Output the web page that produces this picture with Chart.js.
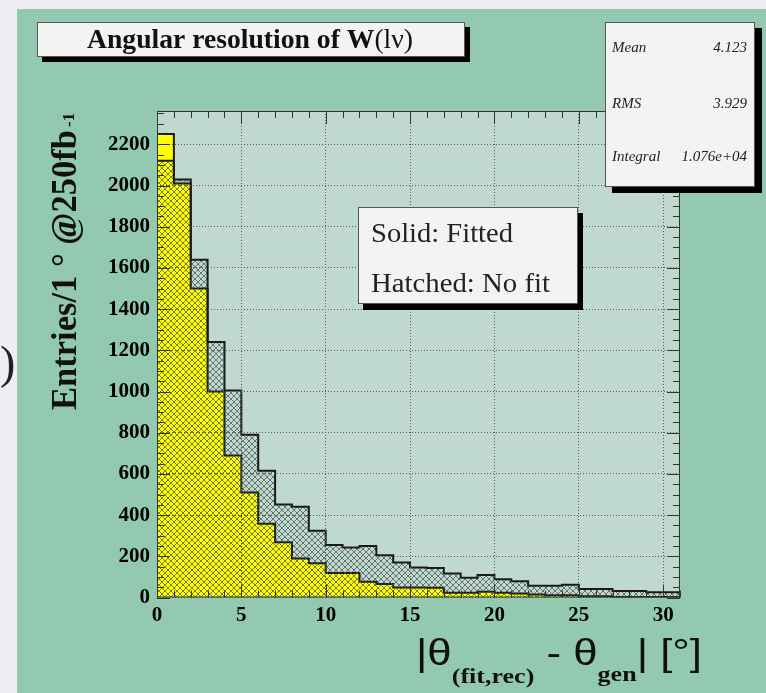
<!DOCTYPE html>
<html><head><meta charset="utf-8">
<script src="https://cdn.jsdelivr.net/npm/chart.js@4.4.1/dist/chart.umd.min.js"></script>
<style>html,body{margin:0;padding:0;background:#efeff3;overflow:hidden}#wrap{width:766px;height:693px;position:relative}</style>
</head><body><div id="wrap"><canvas id="c" width="766" height="693"></canvas></div>
<script>
// ---- data ----
const binEdges = [0,1,2,3,4,5,6,7,8,9,10,11,12,13,14,15,16,17,18,19,20,21,22,23,24,25,26,27,28,29,30,31];
const noFitCounts = [1080,2120,2030,1640,1240,1005,790,615,452,440,324,255,243,250,205,170,146,143,117,96,109,88,79,57,57,62,41,41,32,32,25];
const fittedCounts = [1210,2250,2010,1500,1000,690,510,358,268,189,166,119,119,77,65,49,49,47,23,23,28,23,20,14,11,11,6,6,3,3,3];
const xTickValues = [0,5,10,15,20,25,30];
const yTickValues = [0,200,400,600,800,1000,1200,1400,1600,1800,2000,2200];
const statLabels = ['Mean','RMS','Integral'];
const statValues = ['4.123','3.929','1.076e+04'];
const legendLines = ['Solid: Fitted','Hatched: No fit'];
const titleText = ['Angular resolution of W','(l\u03bd)'];
const yTitle = ['Entries/1 \u00b0 @250fb','-1'];
const xTitle = ['|\u03b8','(fit,rec)',' - \u03b8','gen','| [\u00b0]'];

function stepPoints(counts){
  const n = counts.length;
  const pts = [{x: binEdges[0], y: 0}];
  counts.forEach((v,i)=>pts.push({x: binEdges[i], y: v}));
  pts.push({x: binEdges[n], y: counts[n-1]});
  pts.push({x: binEdges[n], y: 0});
  return pts;
}

const canvas = document.getElementById('c');
const ctx0 = canvas.getContext('2d');
const pc = document.createElement('canvas');
pc.width = 6; pc.height = 6;
const pg = pc.getContext('2d');
pg.strokeStyle = 'rgba(60,72,72,0.7)';
pg.lineWidth = 1;
pg.beginPath();
pg.moveTo(-1,-1); pg.lineTo(7,7);
pg.moveTo(-1,7); pg.lineTo(7,-1);
pg.stroke();
const hatch = ctx0.createPattern(pc,'repeat');

const SERIF = '"Liberation Serif","Times New Roman",serif';
const SANS = '"Liberation Sans",Arial,sans-serif';

function fitText(ctx, text, x, y, w){
  const m = ctx.measureText(text).width;
  ctx.save(); ctx.translate(x,y); ctx.scale(w/m,1); ctx.textAlign='left'; ctx.fillText(text,0,0); ctx.restore();
}
function shadowBox(ctx, x0,y0,x1,y1, dx,dy, fill){
  ctx.fillStyle='#000';
  ctx.fillRect(x0+dx,y0+dy,x1-x0,y1-y0);
  ctx.fillStyle=fill;
  ctx.fillRect(x0,y0,x1-x0,y1-y0);
  ctx.strokeStyle='#555'; ctx.lineWidth=1;
  ctx.strokeRect(x0+0.5,y0+0.5,x1-x0-1,y1-y0-1);
}

const decor = {
  id:'decor',
  beforeDraw(chart){
    const c = chart.ctx, a = chart.chartArea;
    c.save();
    c.fillStyle='#efeff3'; c.fillRect(0,0,766,693);
    c.fillStyle='#93c9b1'; c.fillRect(17,9,766-17,693-9);
    c.fillStyle='#bfd9cf'; c.fillRect(a.left,a.top,a.right-a.left,a.bottom-a.top);
    c.fillStyle='#222'; c.font='46px '+SERIF; c.textBaseline='alphabetic';
    c.fillText(')', 0, 378);
    c.restore();
  },
  afterDraw(chart){
    const c = chart.ctx, a = chart.chartArea;
    const xs = chart.scales.x, ys = chart.scales.y;
    c.save();
    // frame
    c.strokeStyle='#333'; c.lineWidth=1;
    c.strokeRect(a.left+0.5,a.top+0.5,a.right-a.left-1,a.bottom-a.top-1);
    // inward ticks
    c.beginPath();
    for(let v=0; v<=ys.max; v+=50){
      const y = Math.round(ys.getPixelForValue(v))+0.5;
      const L = (v%200===0)?13:7;
      c.moveTo(a.left,y); c.lineTo(a.left+L,y);
      c.moveTo(a.right,y); c.lineTo(a.right-L,y);
    }
    for(let v=0; v<=xs.max; v+=1){
      const x = Math.round(xs.getPixelForValue(v))+0.5;
      const L = (v%5===0)?13:7;
      c.moveTo(x,a.bottom); c.lineTo(x,a.bottom-L);
      c.moveTo(x,a.top); c.lineTo(x,a.top+L);
    }
    c.stroke();

    // title box
    shadowBox(c,37,22,465,57,5,5,'#f3f3f3');
    c.fillStyle='#111'; c.textBaseline='alphabetic';
    c.font='bold 27px '+SERIF;
    const w1 = c.measureText(titleText[0]).width;
    c.font='27px '+SERIF;
    const w2 = c.measureText(titleText[1]).width;
    const sc = 326/(w1+w2);
    c.save(); c.translate(87,48); c.scale(sc,1);
    c.font='bold 27px '+SERIF; c.fillText(titleText[0],0,0);
    c.font='27px '+SERIF; c.fillText(titleText[1],w1,0);
    c.restore();

    // stats box
    shadowBox(c,605,22,755,187,7,6,'#f3f3f3');
    c.fillStyle='#222'; c.font='italic 15px '+SERIF;
    const sy=[52,108,161];
    statLabels.forEach((t,i)=>{ c.textAlign='left'; c.fillText(t,612,sy[i]); c.textAlign='right'; c.fillText(statValues[i],747,sy[i]); });
    c.textAlign='left';

    // legend box
    shadowBox(c,358,207,578,304,5,6,'#f3f3f3');
    c.fillStyle='#222'; c.font='28px '+SERIF;
    fitText(c,legendLines[0],371,242,142);
    fitText(c,legendLines[1],371,292,179);

    // y title
    c.save(); c.translate(76,410); c.rotate(-Math.PI/2);
    c.fillStyle='#111'; c.font='bold 35px '+SERIF;
    fitText(c,yTitle[0],0,0,280);
    c.font='bold 17px '+SERIF;
    c.fillText(yTitle[1],283,-2);
    c.restore();

    // x title (fitted to the span 416..702)
    c.fillStyle='#111';
    const by = 665;
    const parts = [[xTitle[0],'37px '+SANS,0],[xTitle[1],'bold 22px '+SERIF,18],[xTitle[2],'37px '+SANS,0],[xTitle[3],'bold 22px '+SERIF,16],[xTitle[4],'37px '+SANS,0]];
    let tw = 0;
    parts.forEach(p=>{ c.font=p[1]; tw += c.measureText(p[0]).width; });
    const xsc = 286/tw;
    c.save(); c.translate(416,0); c.scale(xsc,1);
    let x = 0;
    parts.forEach(p=>{ c.font=p[1]; c.fillText(p[0],x,by+p[2]); x+=c.measureText(p[0]).width; });
    c.restore();
    c.restore();
  }
};

const tickFont = {family: SERIF, size: 21, weight: 'bold'};
new Chart(canvas, {
  type: 'line',
  data: {
    datasets: [
      {label: 'Hatched: No fit', data: stepPoints(noFitCounts), stepped: 'after', fill: 'origin',
       backgroundColor: hatch, borderColor: '#1a1a1a', borderWidth: 2, pointRadius: 0, order: 0},
      {label: 'Solid: Fitted', data: stepPoints(fittedCounts), stepped: 'after', fill: 'origin',
       backgroundColor: '#ffff00', borderColor: '#1a1a1a', borderWidth: 2, pointRadius: 0, order: 1}
    ]
  },
  options: {
    responsive: false, animation: false, events: [],
    layout: {padding: {left: 0, top: 111, right: 86, bottom: 0}},
    plugins: {legend: {display: false}, tooltip: {enabled: false}, title: {display: false}},
    scales: {
      x: {type: 'linear', min: 0, max: 31,
          afterFit(s){ s.height = 95.5; },
          afterBuildTicks(s){ s.ticks = xTickValues.map(v=>({value:v})); },
          ticks: {font: tickFont, color: '#000', padding: 5, maxRotation: 0, autoSkip: false, callback: v => String(v)},
          grid: {color: '#5a5a5a', lineWidth: 1, drawTicks: false, z: 1},
          border: {display: false, dash: [1,2]}},
      y: {type: 'linear', min: 0, max: 2362,
          afterFit(s){ s.width = 157; },
          afterBuildTicks(s){ s.ticks = yTickValues.map(v=>({value:v})); },
          ticks: {font: tickFont, color: '#000', padding: 7, autoSkip: false, callback: v => String(v)},
          grid: {color: '#5a5a5a', lineWidth: 1, drawTicks: false, z: 1},
          border: {display: false, dash: [1,2]}}
    }
  },
  plugins: [decor]
});
</script></body></html>
